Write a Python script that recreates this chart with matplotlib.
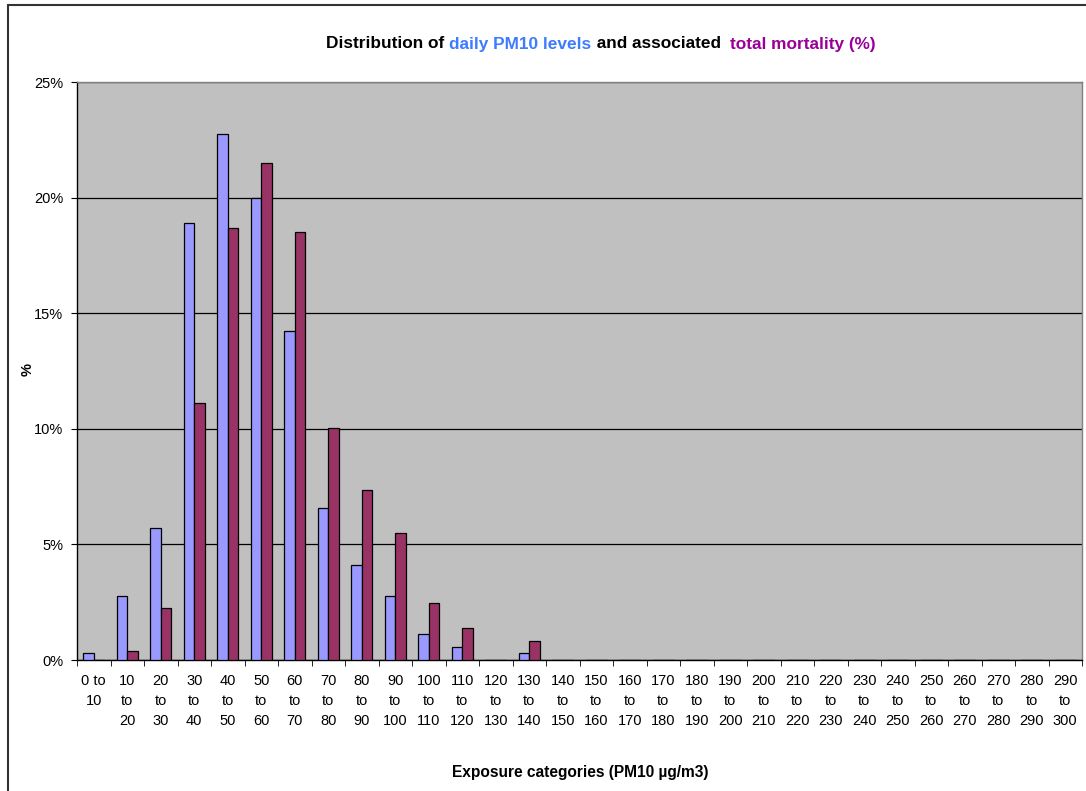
import matplotlib
matplotlib.use("Agg")
import matplotlib.pyplot as plt
from matplotlib.patches import Rectangle
import numpy as np

plt.rcParams['font.family'] = ['Liberation Sans', 'DejaVu Sans']

# ---- data ----
lower_bounds = list(range(0, 300, 10))
tick_labels = ["0 to\n10"] + [f"{lo}\nto\n{lo + 10}" for lo in lower_bounds[1:]]
pm10_pct = [0.29, 2.75, 5.72, 18.91, 22.74, 20.0, 14.22, 6.59, 4.12, 2.75,
            1.11, 0.58, 0.0, 0.30, 0, 0, 0, 0, 0, 0,
            0, 0, 0, 0, 0, 0, 0, 0, 0, 0]
mort_pct = [0.0, 0.40, 2.23, 11.13, 18.67, 21.48, 18.50, 10.02, 7.34, 5.51,
            2.47, 1.37, 0.0, 0.81, 0, 0, 0, 0, 0, 0,
            0, 0, 0, 0, 0, 0, 0, 0, 0, 0]
y_ticks = [0, 5, 10, 15, 20, 25]

W, H = 1086, 791
fig = plt.figure(figsize=(W / 100, H / 100), dpi=100)
fig.patch.set_facecolor('white')

L, R, T, B = 77, 1082, 82, 660
ax = fig.add_axes([L / W, 1 - B / H, (R - L) / W, (B - T) / H])
ax.set_facecolor('#C0C0C0')

x = np.arange(len(tick_labels))
bw = 0.31
ax.bar(x - bw / 2, pm10_pct, width=bw, color='#9999FF', edgecolor='black',
       linewidth=0.9, zorder=3)
ax.bar(x + bw / 2, mort_pct, width=bw, color='#993366', edgecolor='black',
       linewidth=0.9, zorder=3)

ax.set_xlim(-0.5, len(tick_labels) - 0.5)
ax.set_ylim(0, 25)
ax.set_yticks(y_ticks)
ax.set_yticklabels([f"{v}%" for v in y_ticks], fontsize=10.5)
ax.yaxis.grid(True, color='black', linewidth=0.9, zorder=1)
ax.set_axisbelow(True)

ax.set_xticks(x)
ax.set_xticklabels(tick_labels, fontsize=10.5, linespacing=1.55, va='top')
ax.set_xticks(np.arange(-0.5, len(tick_labels), 1), minor=True)
ax.tick_params(axis='x', which='major', length=0, pad=10)
ax.tick_params(axis='x', which='minor', length=4, direction='out', color='black')
ax.tick_params(axis='y', length=4, direction='out', pad=6)

for s in ['top', 'right']:
    ax.spines[s].set_color('#808080')
    ax.spines[s].set_linewidth(1.0)
for s in ['left', 'bottom']:
    ax.spines[s].set_color('black')
    ax.spines[s].set_linewidth(1.0)

# axis titles
fig.text(28 / W, 1 - 370 / H, '%', rotation=90, ha='center', va='center',
         fontsize=10.5, fontweight='bold')
fig.text(580 / W, 1 - 772 / H, 'Exposure categories (PM10 µg/m3)',
         ha='center', va='center', fontsize=11.2, fontweight='bold')

# multi-colour title
parts = [("Distribution of ", 'black'), ("daily PM10 levels", '#3D7BFF'),
         (" and associated  ", 'black'), ("total mortality (%)", '#990099')]
ty = 1 - 44 / H
texts = []
for s, c in parts:
    texts.append(fig.text(0, ty, s, color=c, fontsize=12.4, fontweight='bold',
                          va='center', ha='left'))
fig.canvas.draw()
r = fig.canvas.get_renderer()
widths = [t.get_window_extent(r).width for t in texts]
total = sum(widths)
cx = 601
xpos = cx - total / 2
for t, w in zip(texts, widths):
    t.set_x(xpos / W)
    xpos += w

# figure border
fig.patches.append(Rectangle((8 / W, -0.05), 1.2, 1 - 5 / H + 0.05,
                             transform=fig.transFigure, fill=False,
                             edgecolor='#333333', linewidth=1.5, zorder=0))

fig.savefig('out.png', dpi=100)
